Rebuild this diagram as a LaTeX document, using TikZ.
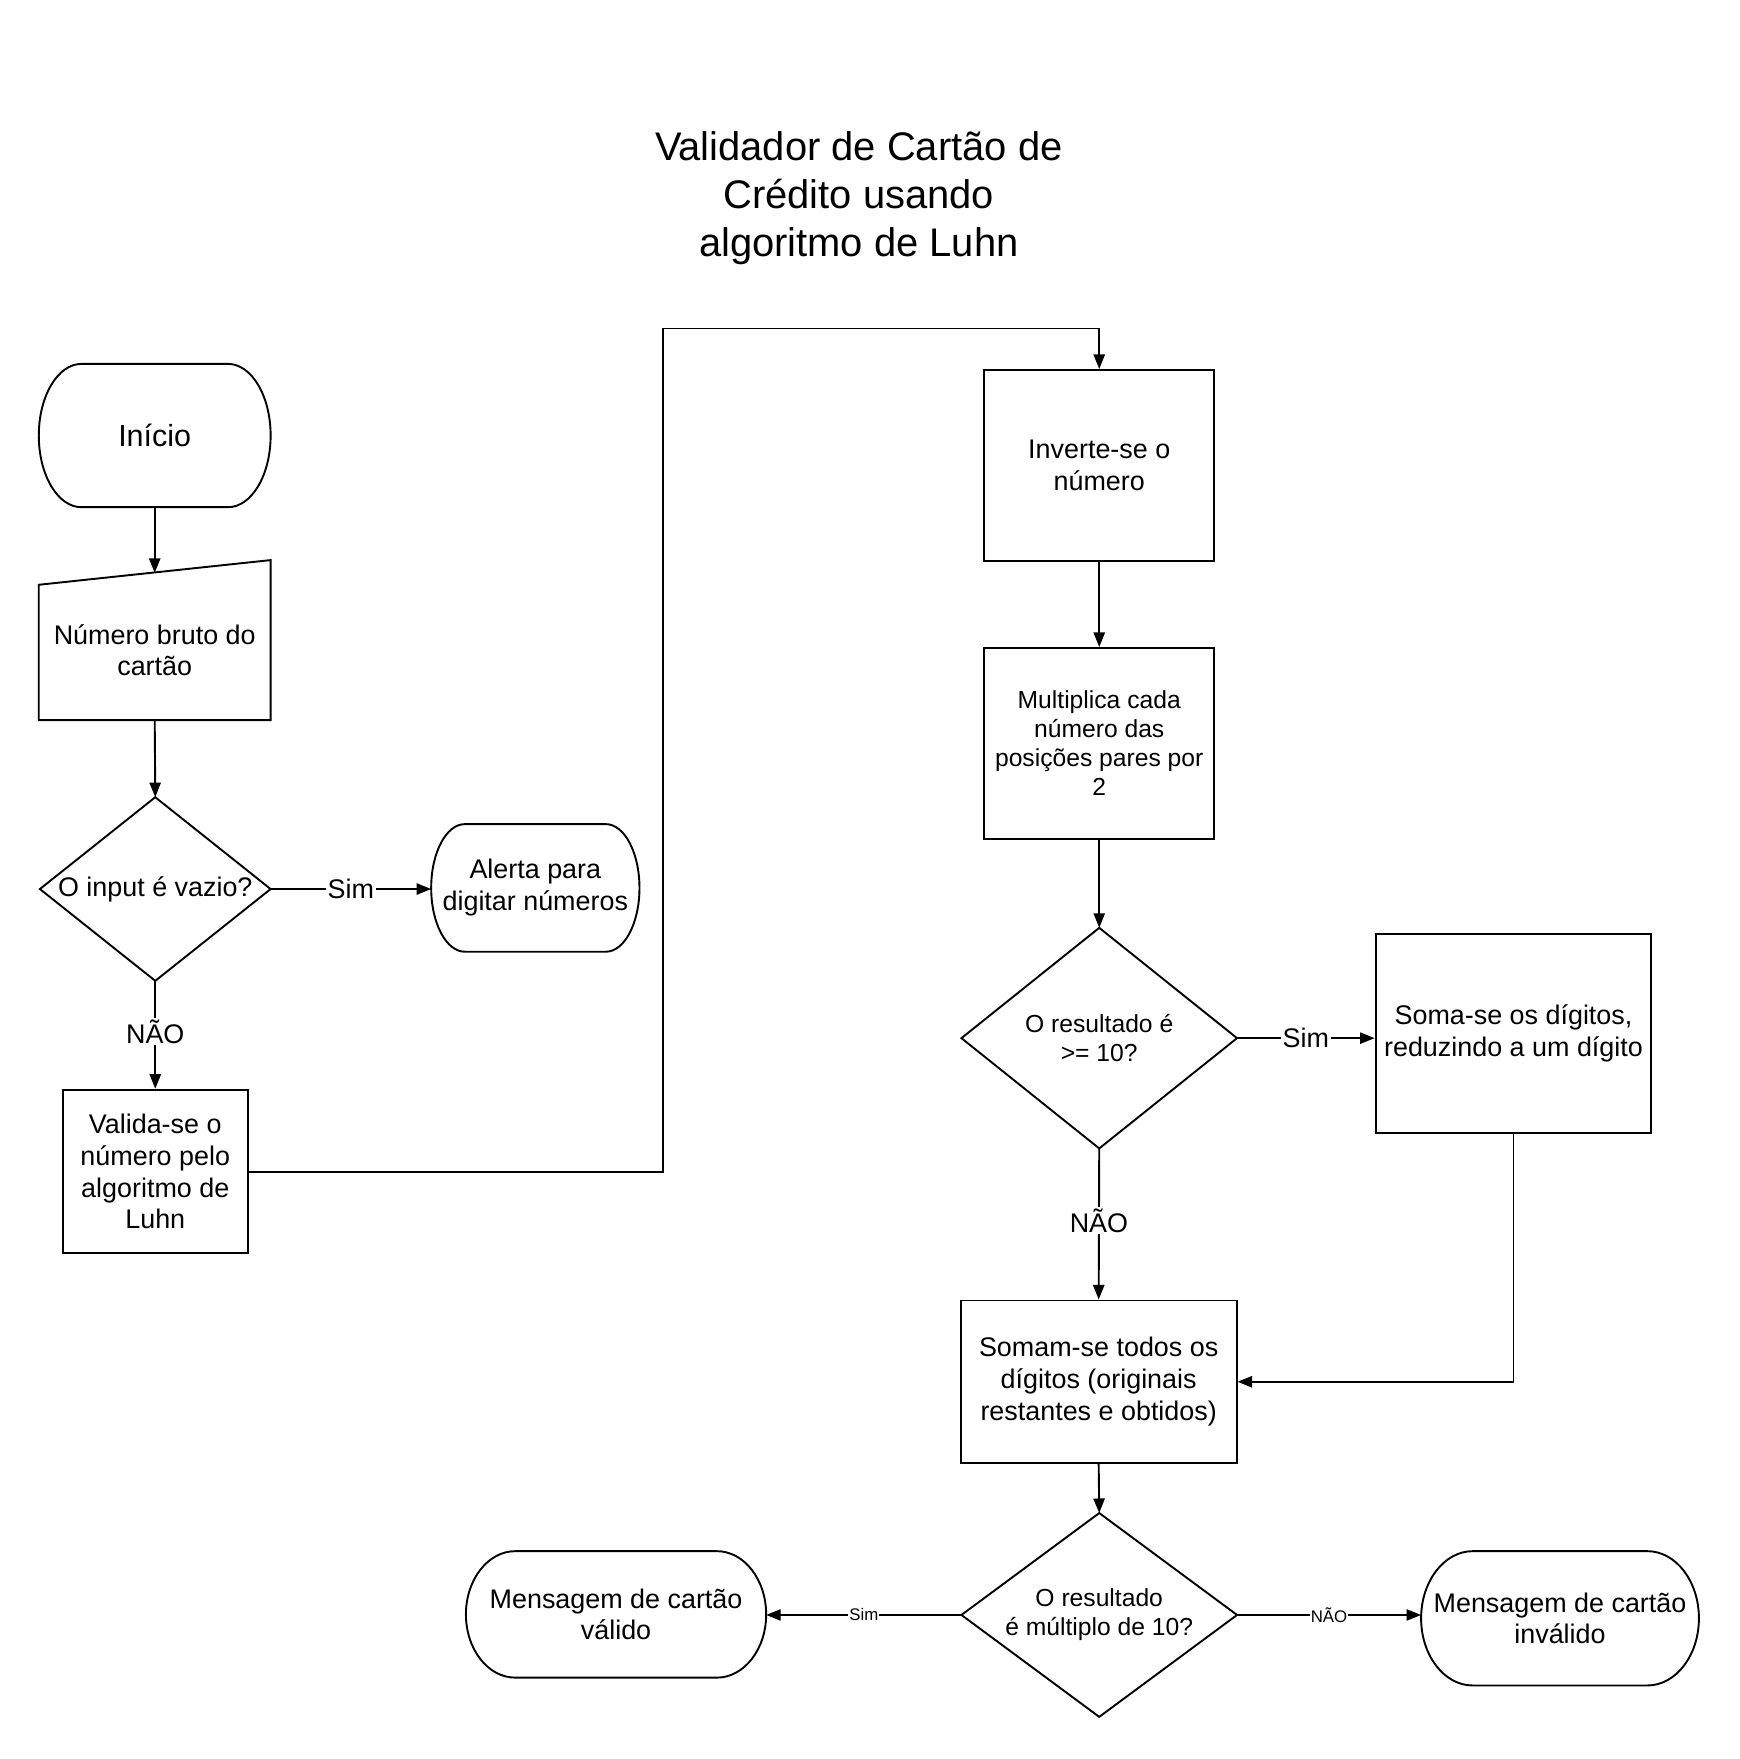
\documentclass[tikz,border=0pt]{standalone}
\usepackage{fontspec}
\setmainfont{Liberation Sans}
\usetikzlibrary{arrows.meta,calc}
\newcommand\fnttitle{\fontsize{17.8pt}{21.5pt}\selectfont}
\newcommand\fntini{\fontsize{13.6pt}{16pt}\selectfont}
\newcommand\fntbody{\fontsize{12pt}{14.2pt}\selectfont}
\newcommand\fntsm{\fontsize{11pt}{13pt}\selectfont}
\newcommand\fnttiny{\fontsize{7.5pt}{9pt}\selectfont}
\newcommand\stadium[2]{%
  \draw[ln] let \p1=(#1.north east), \p2=(#1.south west), \n1={0.5*(\y1-\y2)} in
    ([xshift=#2]#1.north west) -- ([xshift=-#2]#1.north east)
    arc[start angle=90,end angle=-90,x radius=#2,y radius=\n1]
    -- ([xshift=#2]#1.south west)
    arc[start angle=270,end angle=90,x radius=#2,y radius=\n1] -- cycle;}
\begin{document}
\begin{tikzpicture}[x=0.5pt,y=-0.5pt,
  ln/.style={line width=0.85pt},
  frame/.style={draw=none, align=center, inner sep=0pt, font=\fntbody},
  boxnode/.style={draw, line width=0.85pt, align=center, inner sep=0pt, font=\fntbody},
  arr/.style={-{Triangle[length=6.5pt,width=5pt]}, line width=0.85pt},
  lbl/.style={fill=white, inner sep=0.8pt, font=\fntbody},
  slbl/.style={fill=white, inner sep=0.5pt, font=\fnttiny}]
\fill[white] (0,0) rectangle (1552,1569);
\useasboundingbox (0,0) rectangle (1552,1569);

% title
\node[font=\fnttitle, align=center] (title) at (766,177) {Validador de Cartão de\\Crédito usando\\algoritmo de Luhn};

% left column
\node[frame, minimum width=103pt, minimum height=63.5pt, font=\fntini] (ini) at (138,388.5) {Início};
\stadium{ini}{19pt}

\node[frame, minimum width=103pt, minimum height=71pt] (num) at (138,571) {};
\draw[ln] (num.south west) -- (num.south east) -- (num.north east) -- ([yshift=-11pt]num.north west) -- cycle;
\node[frame] (numtxt) at (138,580) {Número bruto do\\cartão};
\coordinate (numtop) at (138,511);

\node[frame, minimum width=102.5pt, minimum height=81.5pt] (d1) at (138.5,793) {O input é vazio?};
\draw[ln] (d1.north) -- (d1.east) -- (d1.south) -- (d1.west) -- cycle;

\node[frame, minimum width=92.5pt, minimum height=56.5pt] (alerta) at (477.5,792) {Alerta para\\digitar números};
\stadium{alerta}{15pt}

\node[boxnode, minimum width=82.5pt, minimum height=73pt] (valida) at (138.5,1045) {Valida-se o\\número pelo\\algoritmo de\\Luhn};

% middle column
\node[boxnode, minimum width=102.5pt, minimum height=85pt] (inv) at (980.5,415) {Inverte-se o\\número};
\node[boxnode, minimum width=102.5pt, minimum height=85pt, font=\fntsm] (mul) at (980.5,663) {Multiplica cada\\número das\\posições pares por\\2};

\node[frame, minimum width=122.5pt, minimum height=98pt, font=\fntsm] (d2) at (980.5,926) {O resultado é\\>= 10?};
\draw[ln] (d2.north) -- (d2.east) -- (d2.south) -- (d2.west) -- cycle;

\node[boxnode, minimum width=123pt, minimum height=89pt] (soma) at (1350,922) {Soma-se os dígitos,\\reduzindo a um dígito};

\node[boxnode, minimum width=123pt, minimum height=72.5pt] (somam) at (980,1232.5) {Somam-se todos os\\dígitos (originais\\restantes e obtidos)};

\node[frame, minimum width=122.5pt, minimum height=90.5pt, font=\fntsm] (d3) at (980.5,1440.5) {O resultado\\é múltiplo de 10?};
\draw[ln] (d3.north) -- (d3.east) -- (d3.south) -- (d3.west) -- cycle;

\node[frame, minimum width=133.5pt, minimum height=56pt] (valido) at (549.5,1440) {Mensagem de cartão\\válido};
\stadium{valido}{22pt}

\node[frame, minimum width=123.5pt, minimum height=59.5pt] (invalido) at (1391.5,1443.5) {Mensagem de cartão\\inválido};
\stadium{invalido}{23pt}

% connectors
\draw[arr] (ini.south) -- (numtop);
\draw[arr] (num.south) -- (d1.north);
\draw[arr] (d1.east) -- node[lbl]{Sim} (d1.east -| alerta.west);
\draw[arr] (d1.south) -- node[lbl, yshift=1.5pt]{NÃO} (valida.north);
\coordinate (c1) at (591,293);
\draw[arr] (valida.east) -| (c1) -| (inv.north);
\draw[arr] (inv.south) -- (mul.north);
\draw[arr] (mul.south) -- (d2.north);
\draw[arr] (d2.east) -- node[lbl]{Sim} (d2.east -| soma.west);
\draw[arr] (d2.south) -- node[lbl, yshift=1.5pt]{NÃO} (somam.north);
\draw[arr] (soma.south) |- (somam.east);
\draw[arr] (somam.south) -- (d3.north);
\draw[arr] (d3.west) -- node[slbl]{Sim} (d3.west -| valido.east);
\draw[arr] (d3.east) -- node[slbl]{NÃO} (d3.east -| invalido.west);
\end{tikzpicture}
\end{document}
